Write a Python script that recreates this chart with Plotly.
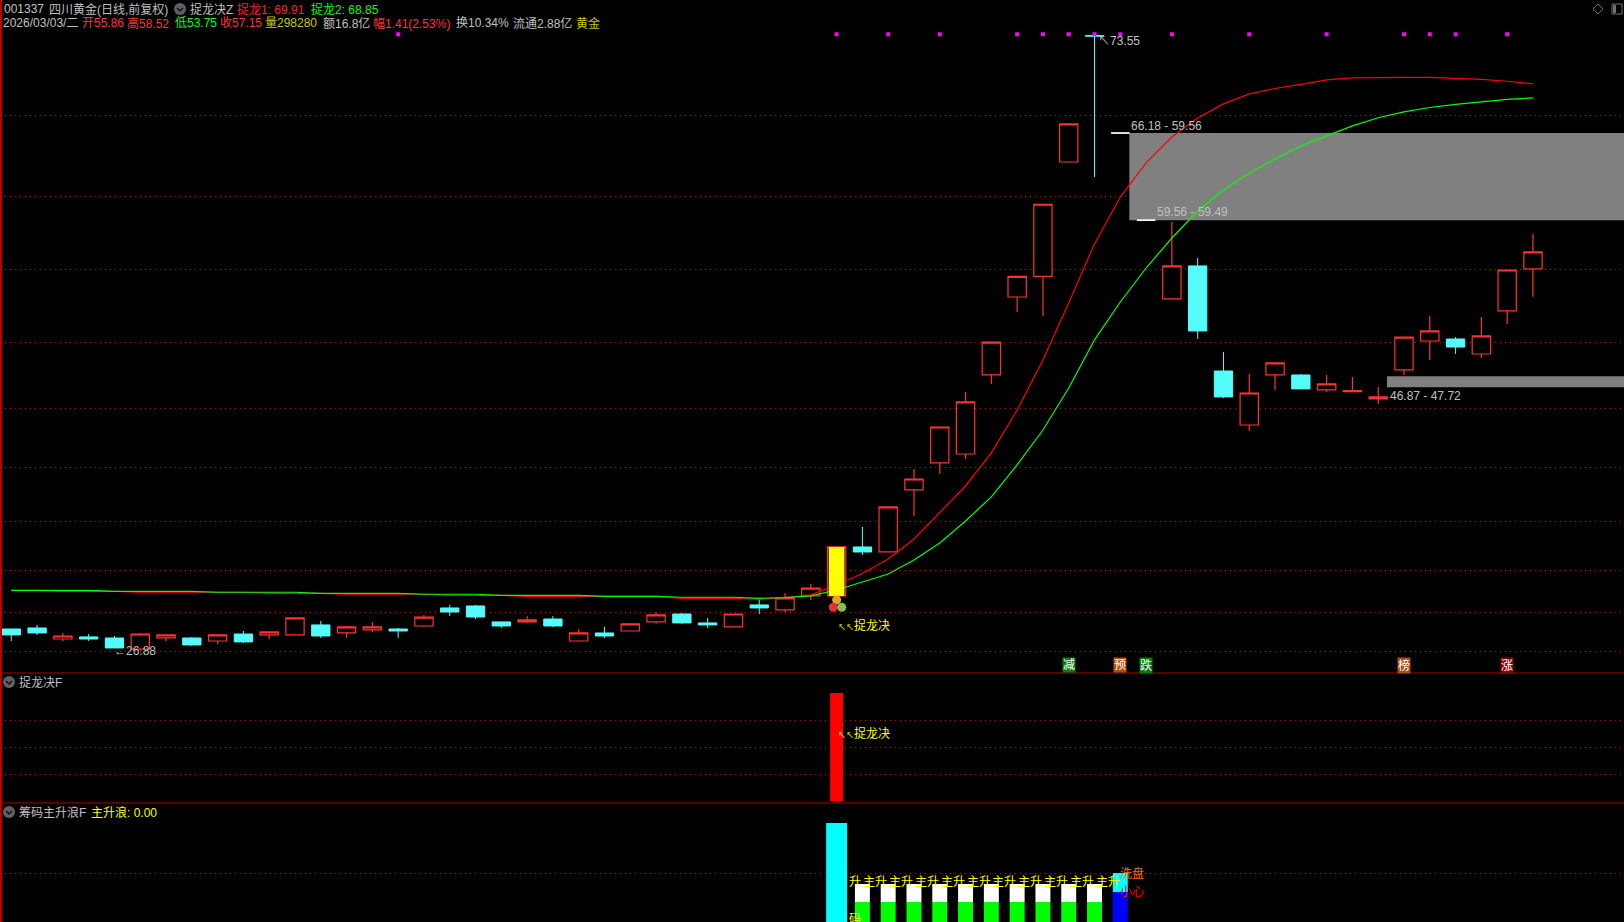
import plotly.graph_objects as go

W, H = 1624, 922
FONT = "Liberation Sans, Noto Sans CJK SC, sans-serif"
RED, CYAN, GREY = "#FF3232", "#54FCFC", "#C0C0C0"
YELLOW, DARK_YELLOW, GREEN = "#FFFF00", "#C8C800", "#00FF00"
GRID = "#E00000"

# daily candles, index 0..59 (43 and 44 are the one-price limit-down days)
opens = [28.52, 28.60, 27.76, 27.92, 27.84, 27.00, 27.84, 27.84, 27.61, 28.14,
         28.07, 28.07, 28.83, 28.22, 28.45, 28.52, 28.75, 30.12, 30.27, 29.06,
         29.06, 29.28, 27.61, 28.22, 28.37, 29.06, 29.66, 28.98, 28.68, 30.35,
         29.97, 31.03, 31.03, 34.75, 34.37, 39.08, 41.13, 41.81, 47.81, 53.73,
         55.30, 63.98, 73.56, None, None, 53.58, 56.09, 48.11, 44.01, 47.81,
         47.81, 46.67, 46.55, 45.99, 48.19, 50.39, 50.54, 49.40, 52.67, 55.86]
highs = [28.52, 28.83, 28.22, 28.14, 27.99, 28.22, 28.07, 27.92, 28.07, 28.37,
         28.30, 29.36, 29.13, 28.75, 29.06, 28.60, 29.59, 30.35, 30.35, 29.06,
         29.51, 29.51, 28.52, 28.68, 28.98, 29.81, 29.74, 29.36, 29.66, 30.73,
         31.26, 31.94, 34.75, 36.27, 37.79, 40.67, 43.86, 46.52, 50.31, 55.30,
         60.77, 66.87, 73.56, None, None, 59.43, 56.69, 49.56, 47.88, 48.72,
         47.88, 47.81, 47.66, 46.90, 50.69, 52.29, 50.69, 52.21, 55.78, 58.52]
lows = [27.61, 28.07, 27.61, 27.61, 27.08, 26.88, 27.61, 27.23, 27.38, 27.46,
        27.76, 28.07, 27.84, 27.84, 28.30, 27.84, 28.68, 29.51, 29.28, 28.60,
        28.98, 28.68, 27.61, 27.84, 28.37, 28.91, 28.91, 28.60, 28.68, 29.66,
        29.81, 30.73, 31.03, 34.14, 34.37, 37.10, 40.29, 41.43, 47.13, 52.59,
        52.29, 63.98, 62.84, None, None, 53.58, 50.54, 46.06, 43.56, 46.67,
        46.75, 46.52, 46.55, 45.61, 47.81, 48.95, 49.40, 49.10, 51.68, 53.75]
closes = [28.07, 28.22, 27.99, 27.76, 27.08, 28.14, 28.07, 27.31, 28.07, 27.54,
          28.30, 29.36, 27.99, 28.68, 28.68, 28.37, 29.43, 29.81, 29.43, 28.75,
          29.21, 28.75, 28.22, 27.99, 28.91, 29.59, 28.98, 28.83, 29.66, 30.12,
          30.88, 31.63, 34.75, 34.37, 37.79, 39.91, 43.86, 45.76, 50.31, 55.30,
          60.77, 66.87, 73.55, None, None, 56.09, 51.15, 46.14, 46.44, 48.72,
          46.75, 47.13, 46.62, 46.14, 50.69, 51.15, 49.93, 50.77, 55.78, 57.15]
days = list(range(len(closes)))

limit_days = [43, 44]
limit_prices = [66.18, 59.56]

zhuolong1 = [31.45, 31.45, 31.38, 31.38, 31.38, 31.31, 31.31, 31.31, 31.31, 31.31,
             31.23, 31.23, 31.23, 31.16, 31.16, 31.16, 31.16, 31.08, 31.08, 31.08,
             31.00, 31.00, 31.00, 31.00, 31.00, 31.00, 30.85, 30.85, 30.85, 30.78,
             30.90, 31.11, 31.86, 32.74, 33.84, 35.36, 37.41, 39.38, 41.89, 45.15,
             48.95, 53.28, 57.76, 61.32, 63.91, 65.88, 67.32, 68.39, 69.15, 69.56,
             69.88, 70.21, 70.36, 70.41, 70.41, 70.41, 70.36, 70.26, 70.11, 69.91]
zhuolong2 = [31.45, 31.45, 31.45, 31.45, 31.38, 31.38, 31.38, 31.38, 31.31, 31.31,
             31.31, 31.31, 31.23, 31.23, 31.23, 31.23, 31.16, 31.16, 31.16, 31.08,
             31.08, 31.08, 31.08, 31.00, 31.00, 31.00, 30.93, 30.93, 30.93, 30.85,
             30.90, 31.03, 31.48, 32.09, 32.70, 33.76, 35.05, 36.72, 38.55, 40.98,
             43.63, 46.82, 50.47, 53.35, 55.93, 58.21, 60.26, 61.86, 63.15, 64.21,
             65.20, 65.96, 66.72, 67.34, 67.78, 68.12, 68.36, 68.54, 68.73, 68.85]

price_grid = [67.48, 61.33, 55.78, 50.24, 45.23, 40.75, 36.65, 33.00, 29.74, 26.78]

signal_days = [15, 32, 34, 36, 39, 40, 41, 42, 43, 45, 48, 51, 54, 55, 56, 58]
signal_level = 73.68

# gap zones: first day (right edge of its candle), top, bottom
zone_starts = [43.35, 53.34]
zone_tops = [66.18, 47.72]
zone_bottoms = [59.56, 46.87]

breakout_day = 32
breakout_low, breakout_high = 31.03, 34.75

icon_x = [32.0, 31.87, 32.2]
icon_y = [30.73, 30.17, 30.17]
icon_colors = ["#E0A820", "#E83030", "#80C050"]

tag_days = [41, 43, 44, 54, 58]
tag_texts = ["减", "预", "跌", "榜", "涨"]
tag_colors = ["#0A7A0A", "#B0500F", "#0A7A0A", "#A84A10", "#8B0000"]

# lower panes
f_day = [32]
f_value = [100]
f_grid = [25, 50, 75]

wave_grid = [50]
wave_cyan_day = [32]
wave_cyan_value = [100]
wave_days = [33, 34, 35, 36, 37, 38, 39, 40, 41, 42]
wave_green = [21, 21, 21, 21, 21, 21, 21, 21, 21, 21]
wave_white = [18, 18, 18, 18, 18, 18, 18, 18, 18, 18]
wash_day = [43]
wash_blue = [31]
wash_cyan = [19]


def fx(px):
    return px / W


def fy(px):
    return 1 - px / H


fig = go.Figure()

fig.add_trace(go.Candlestick(
    x=days, open=opens, high=highs, low=lows, close=closes,
    increasing=dict(line=dict(color=RED, width=1.2), fillcolor="#000000"),
    decreasing=dict(line=dict(color=CYAN, width=1), fillcolor=CYAN),
    hoverinfo="skip"))
fig.add_trace(go.Candlestick(
    x=limit_days, open=limit_prices, high=limit_prices, low=limit_prices, close=limit_prices,
    increasing=dict(line=dict(color="#FFFFFF", width=1), fillcolor="#FFFFFF"),
    decreasing=dict(line=dict(color="#FFFFFF", width=1), fillcolor="#FFFFFF"),
    hoverinfo="skip"))
fig.add_trace(go.Scatter(x=days, y=zhuolong1, mode="lines", line=dict(color="#FF0000", width=1.2)))
fig.add_trace(go.Scatter(x=days, y=zhuolong2, mode="lines", line=dict(color=GREEN, width=1.2)))
fig.add_trace(go.Scatter(x=signal_days, y=[signal_level] * len(signal_days), mode="markers",
                         marker=dict(symbol="square", size=4, color="#FF00FF", line=dict(width=0))))

# yellow breakout bar sits above candles and lines, so it goes on an overlay axis
fig.add_trace(go.Bar(x=[breakout_day], y=[breakout_high - breakout_low], base=[breakout_low],
                     width=0.61, marker=dict(color=YELLOW, line=dict(width=0)), yaxis="y4"))
fig.add_trace(go.Scatter(x=icon_x, y=icon_y, mode="markers", yaxis="y4",
                         marker=dict(size=9, color=icon_colors, line=dict(width=0))))

fig.add_trace(go.Bar(x=f_day, y=f_value, width=0.5, marker=dict(color="#FF0000", line=dict(width=0)), yaxis="y2"))

fig.add_trace(go.Bar(x=wave_cyan_day, y=wave_cyan_value, width=0.81,
                     marker=dict(color="#00FFFF", line=dict(width=0)), yaxis="y3"))
fig.add_trace(go.Bar(x=wave_days, y=wave_green, width=0.58,
                     marker=dict(color=GREEN, line=dict(width=0)), yaxis="y3"))
fig.add_trace(go.Bar(x=wave_days, y=wave_white, base=wave_green, width=0.58,
                     marker=dict(color="#FFFFFF", line=dict(width=0)), yaxis="y3"))
fig.add_trace(go.Bar(x=wash_day, y=wash_blue, width=0.58,
                     marker=dict(color="#0000FF", line=dict(width=0)), yaxis="y3"))
fig.add_trace(go.Bar(x=wash_day, y=wash_cyan, base=wash_blue, width=0.58,
                     marker=dict(color="#00FFFF", line=dict(width=0)), yaxis="y3"))

shapes = []
for start, top, bottom in zip(zone_starts, zone_tops, zone_bottoms):
    shapes.append(dict(type="rect", xref="x", yref="y", layer="between", x0=start, x1=62.6,
                       y0=bottom, y1=top, fillcolor="#808080", line=dict(width=0)))

# pane borders and the small interface icons
for y in [673, 803]:
    shapes.append(dict(type="line", xref="paper", yref="paper", x0=0, x1=1, y0=fy(y), y1=fy(y),
                       line=dict(color="#B00000", width=1)))
shapes.append(dict(type="rect", xref="paper", yref="paper", x0=0, x1=fx(2), y0=0, y1=1,
                   fillcolor="#C00000", line=dict(width=0)))
for cx, cy in [(180, 9), (9, 682), (9, 812)]:
    shapes.append(dict(type="circle", xref="paper", yref="paper", x0=fx(cx - 6), x1=fx(cx + 6),
                       y0=fy(cy + 6), y1=fy(cy - 6), fillcolor="#606060", line=dict(width=0)))
    shapes.append(dict(type="path", xref="paper", yref="paper",
                       path=f"M {fx(cx - 3)} {fy(cy - 1)} L {fx(cx)} {fy(cy + 2)} L {fx(cx + 3)} {fy(cy - 1)}",
                       line=dict(color="#101010", width=1.5)))
shapes.append(dict(type="path", xref="paper", yref="paper",
                   path=f"M {fx(1593)} {fy(9)} L {fx(1598)} {fy(4)} L {fx(1603)} {fy(9)} L {fx(1598)} {fy(14)} Z",
                   line=dict(color="#707070", width=1)))
shapes.append(dict(type="rect", xref="paper", yref="paper", x0=fx(1612), x1=fx(1622), y0=fy(14), y1=fy(4),
                   line=dict(color="#707070", width=1)))
shapes.append(dict(type="rect", xref="paper", yref="paper", x0=fx(1613), x1=fx(1616), y0=fy(13), y1=fy(5),
                   fillcolor="#707070", line=dict(width=0)))

fig.update_layout(shapes=shapes)


def label(text, x, y, color=GREY, size=12):
    fig.add_annotation(text=text, xref="paper", yref="paper", x=fx(x - 2), y=fy(y), showarrow=False,
                       xanchor="left", yanchor="middle", font=dict(color=color, size=size, family=FONT))


ARROWS = '<span style="font-size:8px">↖↖</span>'
header = [
    ("001337", 4, 9, GREY), ("四川黄金(日线,前复权)", 49, 9, GREY), ("捉龙决Z", 190, 9, GREY),
    ("捉龙1: 69.91", 237, 9, "#FF2020"), ("捉龙2: 68.85", 311, 9, GREEN),
    ("2026/03/03/二", 3, 23, GREY), ("开55.86", 82, 23, RED), ("高58.52", 127, 23, RED),
    ("低53.75", 175, 23, GREEN), ("收57.15", 220, 23, RED), ("量298280", 265, 23, DARK_YELLOW),
    ("额16.8亿", 323, 23, GREY), ("幅1.41(2.53%)", 373, 23, RED), ("换10.34%", 456, 23, GREY),
    ("流通2.88亿", 513, 23, GREY), ("黄金", 576, 23, DARK_YELLOW),
    ("捉龙决F", 19, 682, GREY), ("筹码主升浪F", 19, 812, GREY), ("主升浪: 0.00", 91, 812, YELLOW),
    ("↖73.55", 1098, 41, GREY), ("66.18 - 59.56", 1131, 126, GREY), ("59.56 - 59.49", 1157, 212, GREY),
    ("46.87 - 47.72", 1390, 396, GREY), ("←26.88", 114, 651, GREY),
    (ARROWS + "捉龙决", 838, 625, YELLOW), (ARROWS + "捉龙决", 838, 733, YELLOW),
    ("升", 849, 882, YELLOW), ("码", 849, 919, YELLOW),
]
for text, x, y, color in header:
    label(text, x, y, color)

for day in wave_days:
    fig.add_annotation(text="主升", xref="x", yref="y3", x=day, y=41, xshift=-1, showarrow=False, xanchor="left",
                       yanchor="middle", font=dict(color=YELLOW, size=12, family=FONT))
fig.add_annotation(text="洗盘", xref="x", yref="y3", x=wash_day[0], y=50, xshift=-2, showarrow=False, xanchor="left",
                   yanchor="middle", font=dict(color="#FF6A00", size=12, family=FONT))
fig.add_annotation(text="小心", xref="x", yref="y3", x=wash_day[0], y=31, xshift=-2, showarrow=False, xanchor="left",
                   yanchor="middle", font=dict(color="#FF0000", size=12, family=FONT))

for day, text, color in zip(tag_days, tag_texts, tag_colors):
    fig.add_annotation(text=text, xref="x", yref="paper", x=day, y=fy(665), showarrow=False,
                       xanchor="center", yanchor="middle",
                       font=dict(color="#FFFFFF", size=12, family=FONT), bgcolor=color, borderpad=0)

hidden = dict(showgrid=False, zeroline=False, showticklabels=False, ticks="", showline=False)
grid_axis = dict(showgrid=True, gridcolor=GRID, gridwidth=1, griddash="1px,4px", zeroline=False,
                 showticklabels=False, ticks="", showline=False, tickmode="array")
price_range = [25.18, 76.28]

fig.update_layout(
    width=W, height=H, margin=dict(l=0, r=0, t=0, b=0),
    paper_bgcolor="#000000", plot_bgcolor="#000000",
    showlegend=False, barmode="overlay", boxgap=0.29, boxgroupgap=0, hovermode=False,
    font=dict(family=FONT, size=12, color=GREY),
    xaxis=dict(range=[-0.438, 62.53], rangeslider=dict(visible=False), **hidden),
    yaxis=dict(domain=[fy(673), 1], range=price_range, tickvals=price_grid, **grid_axis),
    yaxis2=dict(domain=[fy(803), fy(674)], range=[-1.85, 117.6], tickvals=f_grid, **grid_axis),
    yaxis3=dict(domain=[0, fy(804)], range=[1, 119], tickvals=wave_grid, **grid_axis),
    yaxis4=dict(overlaying="y", range=price_range, visible=False),
)

fig.write_html("out.html", config={"displayModeBar": False},
               post_script="document.body.style.margin='0';document.body.style.background='#000';document.body.style.overflow='hidden';")
